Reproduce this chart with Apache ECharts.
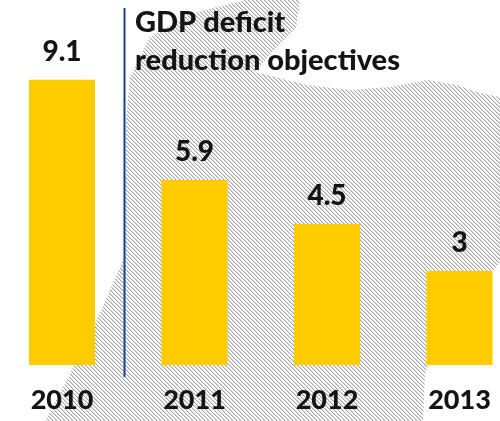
<!DOCTYPE html>
<html>
<head>
<meta charset="utf-8">
<script src="https://cdn.jsdelivr.net/npm/echarts@6/dist/echarts.min.js"></script>
<style>html,body{margin:0;padding:0;background:#fff}#c{width:500px;height:421px}</style>
</head>
<body>
<div id="c"></div>
<script>
var categories = ['2010', '2011', '2012', '2013'];
var deficitValues = [9.1, 5.9, 4.5, 3];
var titleLines = ['GDP deficit', 'reduction objectives'];

// hatch tile
var tile = document.createElement('canvas');
tile.width = 4; tile.height = 4;
var tctx = tile.getContext('2d');
tctx.fillStyle = '#ffffff';
tctx.fillRect(0, 0, 4, 4);
for (var i = 0; i < 4; i++) {
  tctx.fillStyle = '#a8a8a8';
  tctx.fillRect(i, i, 1, 1);
  tctx.fillStyle = '#dcdcdc';
  tctx.fillRect((i + 1) % 4, i, 1, 1);
}

var hatchShape = [
  [245, 0], [300, 0], [296, 28], [272, 52], [255, 72], [307, 85], [350, 90],
  [390, 87], [427, 80], [457, 85], [480, 93], [500, 97], [500, 262],
  [470, 300], [440, 340], [425, 372], [423, 421], [45, 421], [67, 380],
  [97, 320], [124, 258], [126, 120], [130, 78], [150, 37], [190, 14]
];

var chart = echarts.init(document.getElementById('c'), null, {renderer: 'canvas'});
chart.setOption({
  animation: false,
  grid: {left: 62, width: 397.5, top: 51.5, bottom: 56, containLabel: false},
  xAxis: {
    type: 'category',
    data: categories,
    boundaryGap: false,
    axisLine: {show: false},
    axisTick: {show: false},
    axisLabel: {
      margin: 22,
      fontFamily: 'Lato',
      fontWeight: 900,
      fontSize: 27,
      color: '#141414'
    }
  },
  yAxis: {
    type: 'value',
    min: 0, max: 10,
    show: false,
    splitLine: {show: false}
  },
  series: [{
    type: 'bar',
    data: deficitValues,
    barWidth: 66,
    itemStyle: {color: '#FFCC00'},
    z: 5,
    label: {
      show: true,
      position: 'top',
      distance: 14,
      fontFamily: 'Lato',
      fontWeight: 900,
      fontSize: 28,
      color: '#141414'
    }
  }],
  graphic: [
    {
      type: 'polygon',
      z: -10,
      silent: true,
      shape: {points: hatchShape},
      style: {fill: {image: tile, repeat: 'repeat'}, stroke: null}
    },
    {
      type: 'line',
      z: 10,
      silent: true,
      shape: {x1: 124.5, y1: 8, x2: 124.5, y2: 377},
      style: {stroke: '#1a3d9e', lineWidth: 2}
    },
    {
      type: 'text',
      z: 10,
      left: 135,
      top: 4,
      silent: true,
      style: {
        text: titleLines.join('\n'),
        fontFamily: 'Lato',
        fontWeight: 900,
        fontSize: 29,
        lineHeight: 38,
        fill: '#141414'
      }
    }
  ]
});
</script>
</body>
</html>
